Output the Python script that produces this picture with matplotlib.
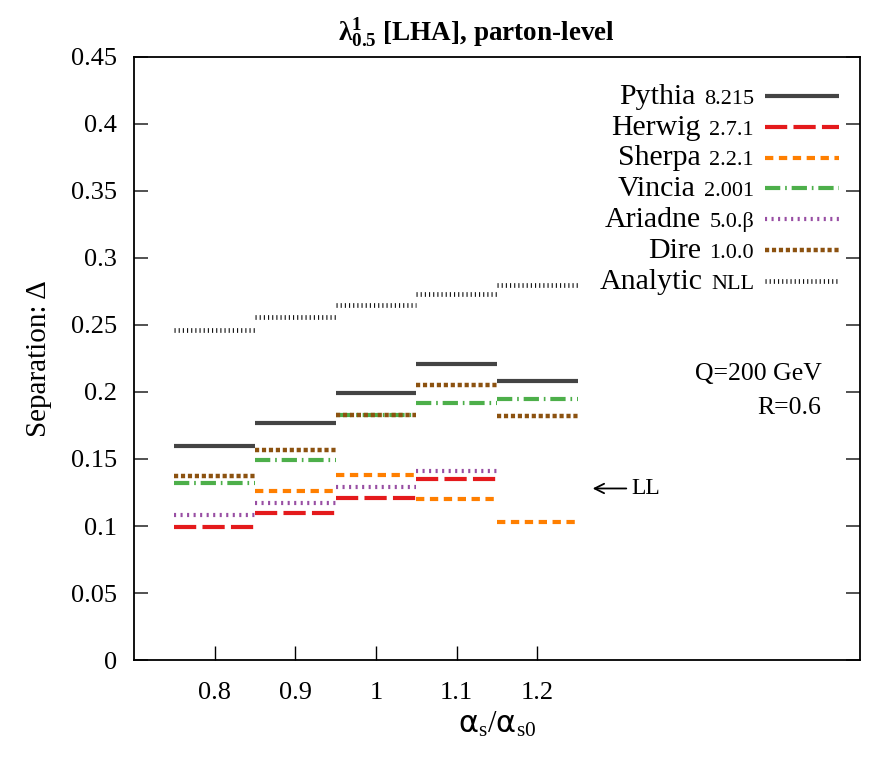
import numpy as np
import matplotlib
matplotlib.use("Agg")
import matplotlib.pyplot as plt

plt.rcParams['font.family'] = ['Liberation Serif', 'DejaVu Serif']
plt.rcParams['mathtext.fontset'] = 'custom'
plt.rcParams['mathtext.rm'] = 'Liberation Serif'
plt.rcParams['mathtext.it'] = 'Liberation Serif:italic'
plt.rcParams['mathtext.bf'] = 'Liberation Serif:bold'
plt.rcParams['mathtext.sf'] = 'DejaVu Sans'
plt.rcParams['lines.scale_dashes'] = False

# alpha_s / alpha_s0 bins
ratio = [0.8, 0.9, 1.0, 1.1, 1.2]
half_width = 0.05

pythia   = [0.160, 0.177, 0.199, 0.221, 0.208]
herwig   = [0.099, 0.110, 0.121, 0.135, np.nan]
sherpa   = [np.nan, 0.126, 0.138, 0.120, 0.103]
vincia   = [0.132, 0.149, 0.183, 0.192, 0.195]
ariadne  = [0.108, 0.117, 0.129, 0.141, np.nan]
dire     = [0.137, 0.157, 0.183, 0.205, 0.182]
analytic = [0.246, 0.256, 0.265, 0.273, 0.280]

names = ['Pythia', 'Herwig', 'Sherpa', 'Vincia', 'Ariadne', 'Dire', 'Analytic']
versions = ['8.215', '2.7.1', '2.2.1', '2.001', '5.0.β', '1.0.0', 'NLL']
series = [pythia, herwig, sherpa, vincia, ariadne, dire, analytic]
styles = [
    dict(color='#444444', lw=3.0, ls='-'),
    dict(color='#e41a1c', lw=3.0, ls=(0, (16, 4.5))),
    dict(color='#ff7f00', lw=3.0, ls=(0, (6, 4))),
    dict(color='#4daf4a', lw=3.0, ls=(0, (11, 3.5, 1.2, 3.5))),
    dict(color='#984ea3', lw=3.0, ls=(0, (1.5, 3.2))),
    dict(color='#8c5210', lw=3.2, ls=(0, (3, 2))),
    dict(color='#111111', lw=3.4, ls=(0, (0.8, 2.2))),
]

fig = plt.figure(figsize=(8.86, 7.67), dpi=100)
ax = fig.add_axes([0.151, 0.1395, 0.820, 0.7862])

for vals, lab, st in zip(series, versions, styles):
    first = True
    for x, v in zip(ratio, vals):
        if np.isnan(v):
            continue
        ax.plot([x - half_width, x + half_width], [v, v],
                solid_capstyle='butt', dash_capstyle='butt',
                label=lab if first else None, **st)
        first = False

ax.set_xlim(0.7, 1.6)
ax.set_ylim(0, 0.45)
ax.set_xticks(ratio)
ax.set_xticklabels(['0.8', '0.9', '1', '1.1', '1.2'])
ax.set_yticks(np.arange(0, 0.451, 0.05))
ax.set_yticklabels(['0', '0.05', '0.1', '0.15', '0.2', '0.25', '0.3', '0.35', '0.4', '0.45'])
ax.tick_params(axis='y', direction='in', length=10, width=1.2, right=True,
               labelsize=19, pad=12, color='#333333')
ax.tick_params(axis='x', direction='in', length=10, width=1, labelsize=19, pad=16)
for sp in ax.spines.values():
    sp.set_linewidth(1.3)

ax.set_ylabel('Separation: Δ', fontsize=21, labelpad=14)
ax.set_xlabel(r'$\mathsf{α}_{\mathrm{s}}/\mathsf{α}_{\mathrm{s0}}$', fontsize=22, labelpad=4)
fig.text(0.538, 0.957, r'$\mathbf{\lambda^{1}_{0.5}}$ [LHA], parton-level',
         ha='center', va='center', fontsize=19.5, fontweight='bold')

leg = ax.legend(loc='upper right', bbox_to_anchor=(0.97, 0.948), frameon=False,
                markerfirst=False, fontsize=16, handlelength=3.3, handletextpad=0.5,
                labelspacing=0.46, borderpad=0, borderaxespad=0)
for t, name in zip(leg.get_texts(), names):
    t.set_ha('right')
    ax.annotate(name, xy=(0, 0), xycoords=t, xytext=(-6, 3.6),
                textcoords='offset points', ha='right', va='baseline',
                fontsize=21.5, zorder=6)

ax.text(1.552, 0.2134, 'Q=200 GeV', ha='right', va='center', fontsize=18.5)
ax.text(1.552, 0.188, 'R=0.6', ha='right', va='center', fontsize=18.5)
ax.annotate('LL', xy=(1.265, 0.128), xytext=(1.317, 0.128), va='center',
            fontsize=17, arrowprops=dict(arrowstyle='->', lw=1.3, color='black'))

fig.savefig('out.png', dpi=100)
